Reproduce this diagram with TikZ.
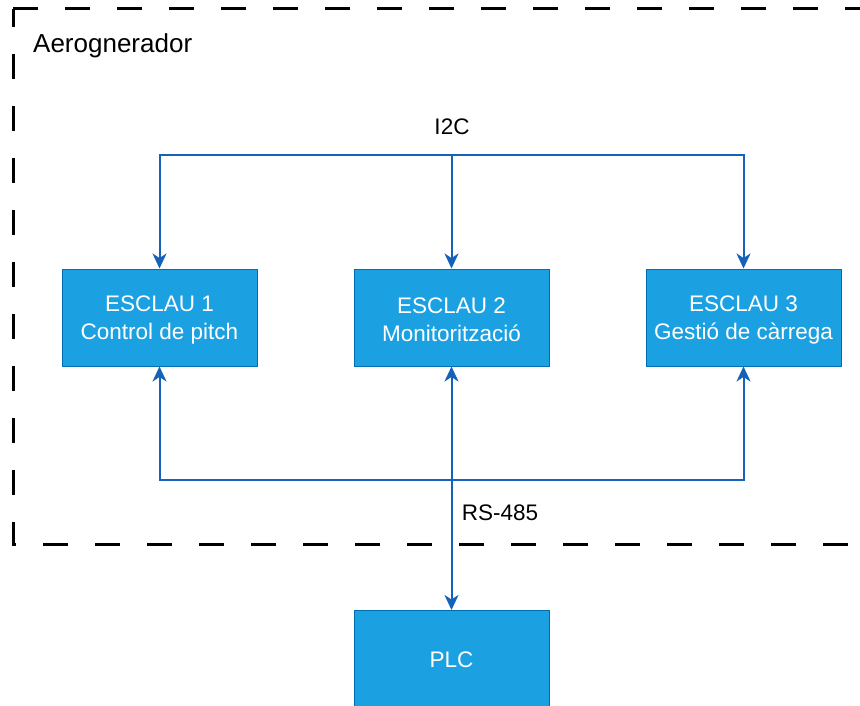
\documentclass[tikz,border=0pt]{standalone}
\usepackage{fontspec}
\setmainfont{Liberation Sans}
\usetikzlibrary{arrows.meta}
\definecolor{boxfill}{HTML}{1BA1E2}
\definecolor{boxline}{HTML}{006EAF}
\definecolor{wire}{HTML}{1463B8}
\tikzset{
  unit/.style={draw=boxline, line width=1pt, fill=boxfill,
    minimum width=195pt, minimum height=97pt, inner sep=0pt},
  unittext/.style={text=white, align=center, inner sep=0pt,
    font=\fontsize{22.5}{28}\selectfont},
  wirestyle/.style={draw=wire, line width=2pt},
  tip/.style={-{Stealth[length=15pt,width=14pt,inset=4.5pt]}},
  bothtips/.style={{Stealth[length=15pt,width=14pt,inset=4.5pt]}-{Stealth[length=15pt,width=14pt,inset=4.5pt]}},
  lbl/.style={font=\fontsize{22.5}{27}\selectfont, inner sep=0pt},
  enclosure/.style={draw=black, line width=3pt, dash pattern=on 25pt off 27pt}
}
\begin{document}
\begin{tikzpicture}[x=1pt, y=-1pt]
\useasboundingbox (0,0) rectangle (860,706);
\fill[white] (0,0) rectangle (860,706);

% wind turbine enclosure
\draw[enclosure] (13,9) -- (900,9) (900,544) -- (13,544) -- (13,9);
\node[font=\fontsize{26}{30}\selectfont, inner sep=0pt, anchor=west] (title) at (33,46) {Aerognerador};

% slave units
\node[unit] (e1) at (159.5,317.5) {};
\node[unit] (e2) at (451.5,317.5) {};
\node[unit] (e3) at (743.5,317.5) {};
\node[unittext] (t1) at (159.5,320) {ESCLAU 1\\Control de pitch};
\node[unittext] (t2) at (451.5,320) {ESCLAU 2\\Monitorització};
\node[unittext] (t3) at (743.5,320) {ESCLAU 3\\Gestió de càrrega};

% master PLC
\node[unit, minimum height=110pt, anchor=north] (plc) at (451.5,610) {};
\node[unittext] (plctext) at (451.5,660) {PLC};

% I2C bus
\coordinate (i2c) at (451.5,155);
\draw[wirestyle, tip] (i2c) -| (e1.north);
\draw[wirestyle, tip] (i2c) -- (e2.north);
\draw[wirestyle, tip] (i2c) -| (e3.north);
\node[lbl] (i2clbl) at (452,127) {I2C};

% RS-485 bus
\coordinate (rs) at (451.5,480);
\draw[wirestyle, tip] (rs) -| (e1.south);
\draw[wirestyle, tip] (rs) -| (e3.south);
\draw[wirestyle, bothtips] (e2.south) -- (plc.north);
\node[lbl] (rslbl) at (500,513) {RS-485};
\end{tikzpicture}
\end{document}
